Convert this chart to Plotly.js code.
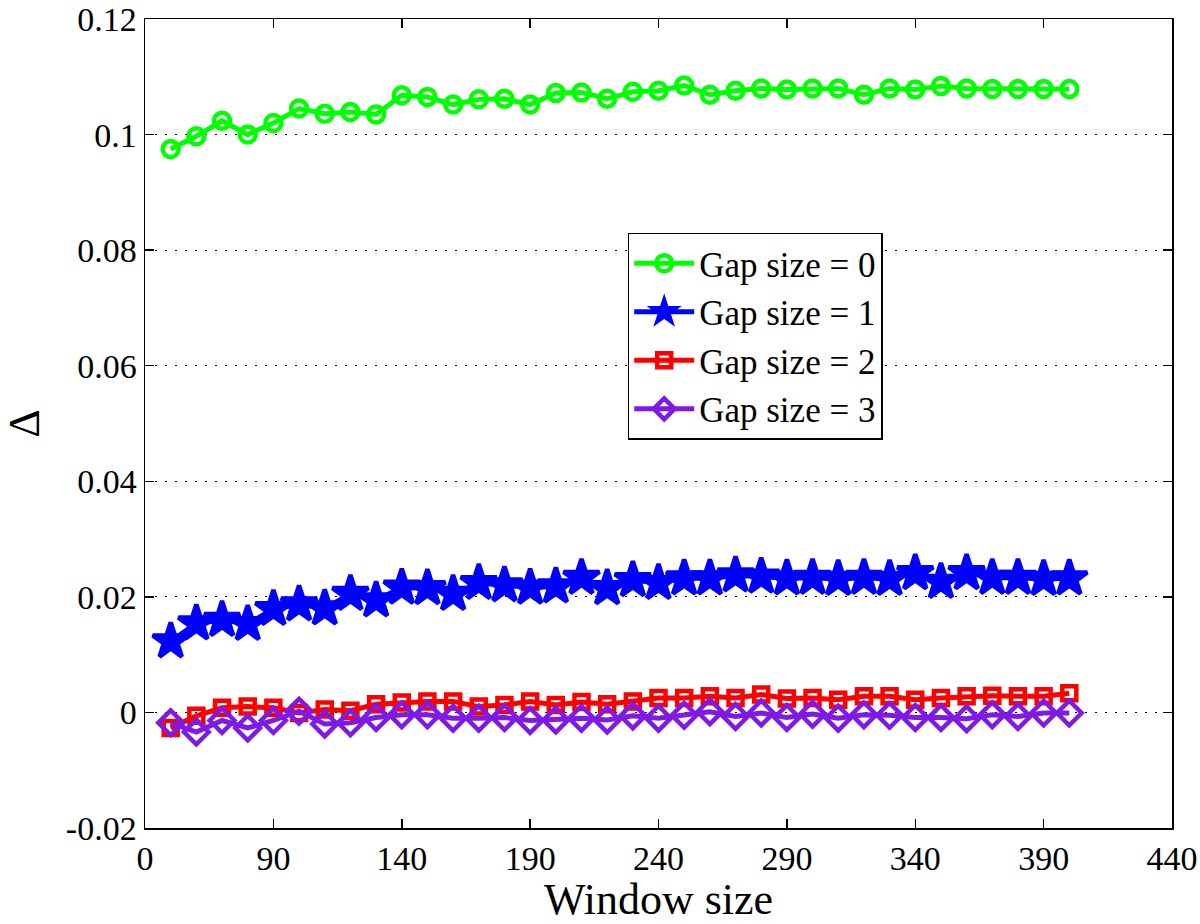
<!DOCTYPE html>
<html>
<head>
<meta charset="utf-8">
<script src="https://cdn.plot.ly/plotly-3.0.1.min.js"></script>
<style>
    body { margin: 0; background: #fff; }
    #chart-area { width: 1200px; height: 924px; }
</style>
</head>
<body>
<div id="chart-area"></div>
<script>
'use strict';

const window_size = [50, 60, 70, 80, 90, 100, 110, 120, 130, 140, 150, 160, 170, 180, 190, 200, 210, 220,
    230, 240, 250, 260, 270, 280, 290, 300, 310, 320, 330, 340, 350, 360, 370, 380, 390, 400];

const gap0 = [0.0975, 0.0997, 0.1024, 0.1000, 0.1020, 0.1045, 0.1036, 0.1039, 0.1035, 0.1068,
    0.1065, 0.1052, 0.1061, 0.1062, 0.1052, 0.1072, 0.1073, 0.1062, 0.1074, 0.1076,
    0.1085, 0.1069, 0.1076, 0.1080, 0.1078, 0.1080, 0.1080, 0.1069, 0.1080, 0.1078,
    0.1084, 0.1080, 0.1079, 0.1079, 0.1079, 0.1079];
const gap1 = [0.0123, 0.0154, 0.0160, 0.0153, 0.0179, 0.0187, 0.0180, 0.0205, 0.0194, 0.0216,
    0.0215, 0.0205, 0.0224, 0.0220, 0.0216, 0.0218, 0.0233, 0.0215, 0.0229, 0.0224,
    0.0232, 0.0232, 0.0237, 0.0235, 0.0232, 0.0233, 0.0231, 0.0233, 0.0231, 0.0241,
    0.0226, 0.0241, 0.0233, 0.0233, 0.0231, 0.0232];
const gap2 = [-0.0027, -0.0006, 0.0008, 0.0010, 0.0008, -0.0001, 0.0005, 0.0003, 0.0014, 0.0017,
    0.0019, 0.0019, 0.0010, 0.0013, 0.0019, 0.0013, 0.0018, 0.0014, 0.0019, 0.0025,
    0.0025, 0.0028, 0.0025, 0.0031, 0.0024, 0.0025, 0.0022, 0.0028, 0.0028, 0.0022,
    0.0025, 0.0028, 0.0029, 0.0028, 0.0028, 0.0033];
const gap3 = [-0.0018, -0.0034, -0.0014, -0.0027, -0.0014, 0.0002, -0.0020, -0.0018, -0.0009, -0.0004,
    -0.0004, -0.0010, -0.0010, -0.0009, -0.0014, -0.0013, -0.0010, -0.0013, -0.0006, -0.0010,
    -0.0005, 0.0001, -0.0007, -0.0001, -0.0009, -0.0003, -0.0010, -0.0004, -0.0005, -0.0009,
    -0.0009, -0.0011, -0.0004, -0.0007, -0.0001, -0.0001];

const series_names = ["Gap size = 0", "Gap size = 1", "Gap size = 2", "Gap size = 3"];

// the original axis has its first tick labelled 0 instead of 40
const x_tick_vals = [40, 90, 140, 190, 240, 290, 340, 390, 440];
const x_tick_text = ["0", "90", "140", "190", "240", "290", "340", "390", "440"];
const y_tick_vals = [-0.02, 0, 0.02, 0.04, 0.06, 0.08, 0.1, 0.12];
const y_tick_text = ["-0.02", "0", "0.02", "0.04", "0.06", "0.08", "0.1", "0.12"];

const font_family = "Liberation Serif";

function make_trace(y, name, color, symbol, size) {
    return {
        x: window_size,
        y: y,
        name: name,
        type: "scatter",
        mode: "lines+markers",
        line: { color: color, width: 5 },
        marker: {
            symbol: symbol,
            size: size,
            color: color,
            line: { color: color, width: 4.5 },
        },
    };
}

window.onload = () => {
    let data = [
        make_trace(gap0, series_names[0], "#00ff00", "circle-open", 16),
        make_trace(gap1, series_names[1], "#0000ff", "star", 27),
        make_trace(gap2, series_names[2], "#ff0000", "square-open", 14),
        make_trace(gap3, series_names[3], "#7f1ae6", "diamond-open", 19),
    ];

    let axis_common = {
        showline: true,
        linecolor: "#000",
        linewidth: 1.5,
        mirror: "ticks",
        ticks: "inside",
        ticklen: 9,
        tickwidth: 1.5,
        tickcolor: "#000",
        zeroline: false,
        ticklabeloverflow: "allow",
        tickfont: { family: font_family, size: 34, color: "#000" },
    };

    let layout = {
        width: 1200,
        height: 924,
        paper_bgcolor: "#fff",
        plot_bgcolor: "#fff",
        margin: { l: 145, r: 28, t: 19, b: 96 },
        font: { family: font_family, color: "#000" },
        showlegend: true,
        legend: {
            x: 0.47,
            y: 0.736,
            xanchor: "left",
            yanchor: "top",
            bgcolor: "#fff",
            bordercolor: "#000",
            borderwidth: 1.5,
            font: { family: font_family, size: 35, color: "#000" },
            itemwidth: 60,
        },
        xaxis: Object.assign({}, axis_common, {
            range: [40, 440],
            tickvals: x_tick_vals,
            ticktext: x_tick_text,
            showgrid: false,
            title: { text: "Window size", font: { family: font_family, size: 44 }, standoff: 6 },
        }),
        yaxis: Object.assign({}, axis_common, {
            range: [-0.02001, 0.12001],
            tickvals: y_tick_vals,
            ticktext: y_tick_text,
            showgrid: true,
            gridcolor: "#000",
            gridwidth: 1,
            griddash: "2px,8px",
            title: { text: "Δ", font: { family: font_family, size: 44 }, standoff: 14 },
        }),
    };

    Plotly.newPlot("chart-area", data, layout, { staticPlot: true });
};
</script>
</body>
</html>
